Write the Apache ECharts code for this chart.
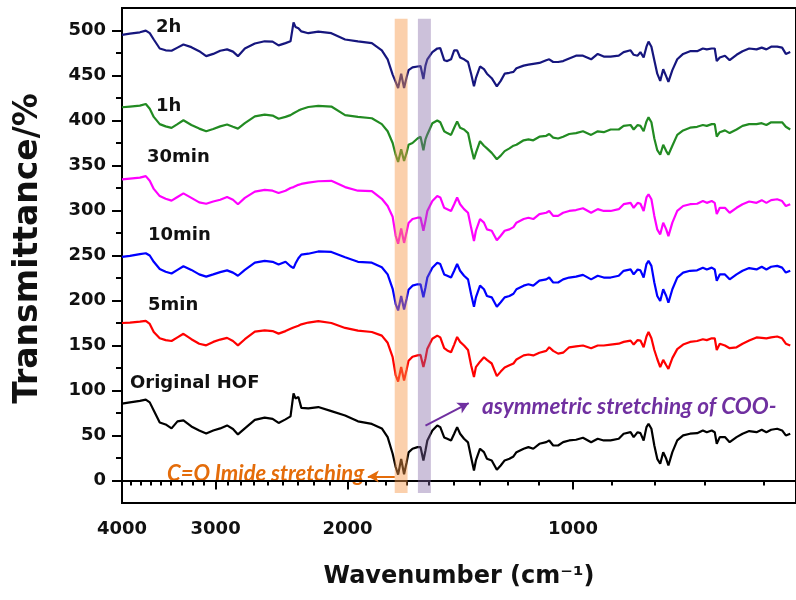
<!DOCTYPE html>
<html>
<head>
<meta charset="utf-8">
<title>FTIR spectra</title>
<script src="https://cdn.jsdelivr.net/npm/echarts@6.0.0/dist/echarts.min.js"></script>
<style>
  html, body { margin: 0; padding: 0; background: #fff; }
  #chart { width: 796px; height: 600px; }
</style>
</head>
<body>
<div id="chart"></div>
<script>
// wavenumber (cm-1) shared by every spectrum
const wavenumbers = [
  4000, 3904, 3786, 3718, 3673, 3628, 3562, 3498, 3435, 3373,
  3312, 3232, 3155, 3088, 3022, 2958, 2896, 2844, 2801, 2742,
  2659, 2580, 2518, 2472, 2420, 2383, 2361, 2347, 2326, 2305,
  2256, 2188, 2102, 2015, 1937, 1856, 1800, 1768, 1741, 1725,
  1712, 1696, 1681, 1668, 1658, 1638, 1613, 1598, 1584, 1574,
  1565, 1541, 1518, 1504, 1486, 1472, 1455, 1441, 1428, 1415,
  1398, 1381, 1368, 1356, 1348, 1331, 1315, 1303, 1284, 1264,
  1249, 1234, 1216, 1201, 1190, 1164, 1147, 1130, 1109, 1086,
  1076, 1063, 1047, 1031, 1012, 991, 970, 946, 927, 910,
  891, 869, 856, 838, 830, 820, 813, 805, 798, 793,
  786, 779, 772, 765, 758, 751, 746, 737, 726, 713,
  698, 683, 671, 663, 653, 647, 643, 637, 627, 618,
  605, 594, 582, 569, 560, 552, 544, 534, 526, 520,
  513
]

const originalHOF = [
  85.4, 86.8, 88.5, 89.8, 86.8, 77.9, 64.5, 62.3, 57.9, 65.7,
  66.8, 60.1, 55.6, 52.3, 55.6, 57.9, 61.2, 57.3, 51.2, 57.9,
  67.3, 69.8, 68.4, 64.0, 67.9, 71.2, 96.8, 91.2, 92.7, 80.7,
  80.1, 81.6, 77.1, 72.3, 65.7, 62.9, 57.9, 48.2, 29.7, 15.0,
  6.5, 24.0, 7.0, 20.0, 31.2, 35.3, 37.1, 37.1, 22.3, 33.4,
  44.5, 55.6, 61.2, 59.3, 47.9, 46.4, 44.5, 52.0, 59.3, 52.0,
  46.4, 42.3, 25.9, 11.1, 22.3, 35.3, 31.5, 24.1, 22.3, 11.9,
  16.7, 22.3, 24.1, 26.7, 31.5, 35.3, 37.1, 35.3, 40.8, 42.6,
  44.5, 38.9, 38.9, 42.6, 44.5, 45.3, 47.5, 42.6, 46.4, 44.5,
  44.5, 46.4, 52.0, 53.7, 48.2, 53.7, 52.6, 44.5, 59.3, 63.1,
  57.5, 38.9, 24.1, 18.6, 31.5, 24.1, 16.7, 31.5, 44.5, 50.1,
  52.0, 52.6, 55.6, 53.7, 55.6, 53.7, 40.8, 48.2, 48.2, 42.6,
  48.2, 52.0, 54.9, 53.7, 56.4, 53.7, 56.4, 57.5, 55.6, 50.1,
  52.0
]

const min5 = [
  175.0, 175.5, 176.5, 177.3, 174, 165, 158, 156, 155, 159,
  163, 157, 152, 150.2, 154, 156.6, 158.5, 155, 150.2, 157,
  165.5, 166.9, 166, 163.2, 166, 168.5, 170, 171, 172, 173.5,
  175.5, 177, 175, 169.5, 166.5, 165, 161, 153, 137, 117,
  110, 126, 111, 123, 133, 137.5, 139, 139.5, 126, 135.5,
  146.5, 157.5, 161, 159, 147, 144.5, 142.5, 151, 159.5, 154,
  150, 145, 128, 115, 126, 132, 137, 134, 130, 116,
  121, 125.5, 128, 130, 134.5, 139, 140, 139, 142, 144,
  148, 144, 141, 142, 148, 149, 150, 147, 150, 150,
  151, 152, 154, 155.5, 151, 156, 155.5, 148, 160, 165,
  158, 145, 135, 126, 134, 128, 124, 136, 146, 151,
  154, 155, 157, 156, 158, 158, 145, 152, 150, 147,
  148, 152, 155.5, 159, 158.5, 158, 159, 160, 158, 152,
  150
]

const min10 = [
  248.5, 249.5, 251.5, 252.5, 250, 243, 235, 232, 230, 234,
  238, 234, 229, 226.5, 229, 231.5, 233.5, 231, 227.5, 234,
  242, 244, 243, 240, 243, 238, 236, 241, 247, 251,
  252, 254.5, 254, 248, 243, 242, 237, 229, 213, 196,
  189, 205, 190, 202, 212, 216.5, 218, 218, 203.5, 214.5,
  225.5, 236.5, 242, 240.5, 229, 227.5, 225.5, 233, 240.5, 233,
  227.5, 223.5, 207, 193, 203.5, 216.5, 212.5, 205, 203.5, 193,
  198, 203.5, 205, 207.5, 212.5, 216.5, 218, 216.5, 222, 223.5,
  225.5, 220, 220, 223.5, 225.5, 226.5, 228.5, 223.5, 227.5, 225.5,
  225.5, 227.5, 233, 234.5, 229, 234.5, 233.5, 225.5, 240.5, 244,
  238.5, 220, 205, 199.5, 212.5, 205, 197.5, 212.5, 225.5, 231,
  233, 233.5, 236.5, 234.5, 236.5, 234.5, 222, 229, 229, 223.5,
  229, 233, 236, 234.5, 237.5, 234.5, 237.5, 238.5, 236.5, 231,
  233
]

const min30 = [
  334.6, 335.5, 336.5, 338.2, 333, 324, 316, 313, 311, 315,
  319, 314, 309, 307.5, 310, 312, 315, 312, 307, 314,
  321, 323, 322, 319.5, 322, 325, 326, 327, 328.5, 329.5,
  331, 332.5, 333, 326, 322, 321.5, 313, 305, 293, 272,
  263, 280, 264, 276, 286, 290.5, 292, 292, 277.5, 288.5,
  299.5, 310.5, 316, 314.5, 303, 301.5, 299.5, 307, 314.5, 307,
  301.5, 297.5, 281, 266, 277.5, 290.5, 286.5, 279, 277.5, 267,
  272, 277.5, 279, 281.5, 286.5, 290.5, 292, 290.5, 296, 297.5,
  299.5, 294, 294, 297.5, 299.5, 300.5, 302.5, 297.5, 301.5, 299.5,
  299.5, 301.5, 307, 308.5, 303, 308.5, 307.5, 299.5, 314.5, 318,
  312.5, 294, 279, 273.5, 286.5, 279, 271.5, 286.5, 299.5, 305,
  307, 307.5, 310.5, 308.5, 310.5, 308.5, 296, 303, 303, 297.5,
  303, 307, 310, 308.5, 311.5, 308.5, 311.5, 312.5, 310.5, 305,
  307
]

const h1 = [
  414.7, 415.5, 416.5, 418.4, 413, 404, 396, 393.5, 391.8, 396,
  400.3, 395, 391, 388, 390.5, 393.5, 395.5, 393, 391, 397,
  404.5, 406.5, 405.5, 402, 404, 406, 408, 409, 411, 412.5,
  415, 416.3, 415.5, 406, 404, 402.5, 396, 388, 375, 362,
  354, 368, 355, 364, 373, 375, 380, 382, 367, 379,
  384.5, 397, 400, 398, 388, 386, 384, 392, 399, 392,
  390, 386, 370, 357, 364, 377, 372, 369, 364, 357,
  361, 366, 369, 372, 373, 378, 379, 378, 382, 383,
  385, 381, 380, 382, 385, 386, 388, 384, 388, 387,
  390, 390, 394, 395, 390, 395, 394, 388, 399, 403.5,
  398, 380, 367, 362, 373, 366, 362, 372, 384, 389,
  392, 393, 395, 394, 396, 396, 382, 387, 389, 386,
  390, 394, 396, 396, 397, 395, 398, 398, 398, 393,
  390
]

const h2 = [
  495.2, 496.5, 498, 499.9, 497, 490, 480, 478, 477.5, 481,
  484.5, 481.5, 477, 471.5, 474, 477.5, 479, 476.5, 471.5, 480,
  485.5, 488, 487.7, 483.5, 486, 488, 509, 504, 502.6, 499,
  497, 498.8, 497, 490, 488, 486, 478, 468, 451, 443,
  436, 452, 436, 448, 456, 459, 460, 460.5, 446, 461,
  468, 476, 480, 480.4, 467, 466, 468, 478, 478, 470,
  468, 465, 452, 438, 447, 460, 457, 452, 447, 438,
  444, 452, 453, 454, 458, 461, 462, 463, 464, 467,
  468, 465, 465, 466, 469, 472, 472, 468, 474, 471,
  471, 472, 476, 478, 473, 472, 476, 470, 482, 487.7,
  482, 467, 452, 444, 457, 449, 443, 456, 468, 474,
  477, 477, 480, 479, 480, 480, 466, 470, 472, 467,
  473, 477, 480, 479, 481, 479, 482, 482, 481, 474,
  476
]

const xMajorTicks = [4000, 3000, 2000, 1000]
const xMinorTicks = [
  3889, 3778, 3667, 3556, 3444, 3333, 3222, 3111,
  2889, 2778, 2667, 2556, 2444, 2333, 2222, 2111,
  1889, 1778, 1667, 1556, 1444, 1333, 1222, 1111,
  889, 778, 667, 556
]
const yMajorTicks = [0, 50, 100, 150, 200, 250, 300, 350, 400, 450, 500]
const yMinorTicks = [25, 75, 125, 175, 225, 275, 325, 375, 425, 475]

const spectra = [
  { name: 'Original HOF', values: originalHOF, color: '#000000' },
  { name: '5min', values: min5, color: '#ff0000' },
  { name: '10min', values: min10, color: '#0000ff' },
  { name: '30min', values: min30, color: '#ff00ff' },
  { name: '1h', values: h1, color: '#228b22' },
  { name: '2h', values: h2, color: '#16167e' }
]

// curve captions, placed like the figure
const captions = [
  { text: '2h', x: 156, y: 27 },
  { text: '1h', x: 156, y: 106 },
  { text: '30min', x: 147, y: 157 },
  { text: '10min', x: 148, y: 235 },
  { text: '5min', x: 148, y: 305 },
  { text: 'Original HOF', x: 130, y: 383 }
]

const boldFont = 'DejaVu Sans'
const noteFont = 'Lato'

const chart = echarts.init(document.getElementById('chart'), null, { renderer: 'canvas' })

const lineSeries = spectra.map(({ name, values, color }) => ({
  name,
  type: 'line',
  showSymbol: false,
  symbol: 'none',
  data: wavenumbers.map((w, i) => [w, values[i]]),
  lineStyle: { color, width: 2.2 },
  itemStyle: { color },
  z: 2
}))

const logAxisBase = {
  type: 'log',
  logBase: 10,
  inverse: true,
  min: 504,
  max: 4000,
  splitLine: { show: false },
  minorTick: { show: false },
  minorSplitLine: { show: false }
}

const option = {
  animation: false,
  backgroundColor: '#ffffff',
  grid: {
    left: 122,
    right: -6,
    top: 8,
    bottom: 97,
    show: true,
    borderColor: '#000',
    borderWidth: 2,
    backgroundColor: 'transparent'
  },
  xAxis: [
    {
      ...logAxisBase,
      position: 'bottom',
      axisLine: { lineStyle: { color: '#000', width: 2 } },
      axisTick: { customValues: xMajorTicks, length: 9, lineStyle: { color: '#000', width: 2 } },
      axisLabel: {
        customValues: xMajorTicks,
        formatter: v => String(Math.round(v)),
        margin: 17,
        color: '#111',
        fontSize: 18,
        fontWeight: 'bold',
        fontFamily: boldFont
      },
      name: 'Wavenumber (cm⁻¹)',
      nameLocation: 'middle',
      nameGap: 62,
      nameTextStyle: { color: '#111', fontSize: 24, fontWeight: 'bold', fontFamily: boldFont }
    },
    {
      ...logAxisBase,
      position: 'bottom',
      axisLine: { show: false },
      axisTick: { customValues: xMinorTicks, length: 5, lineStyle: { color: '#000', width: 2 } },
      axisLabel: { show: false }
    }
  ],
  yAxis: [
    {
      type: 'value',
      min: -25,
      max: 525,
      position: 'left',
      splitLine: { show: false },
      axisLine: { show: true, lineStyle: { color: '#000', width: 2 } },
      axisTick: { show: true, customValues: yMajorTicks, length: 10, lineStyle: { color: '#000', width: 2 } },
      axisLabel: {
        customValues: yMajorTicks,
        margin: 16,
        color: '#111',
        fontSize: 18,
        fontWeight: 'bold',
        fontFamily: boldFont
      },
      name: 'Transmittance/%',
      nameLocation: 'middle',
      nameGap: 77,
      nameTextStyle: { color: '#111', fontSize: 33, fontWeight: 'bold', fontFamily: boldFont, padding: [0, 0, 0, 14] }
    },
    {
      type: 'value',
      min: -25,
      max: 525,
      position: 'left',
      splitLine: { show: false },
      axisLine: { show: false },
      axisTick: { show: true, customValues: yMinorTicks, length: 6, lineStyle: { color: '#000', width: 2 } },
      axisLabel: { show: false }
    }
  ],
  series: [
    ...lineSeries,
    {
      // highlighted bands and the two arrows
      name: 'notes',
      type: 'line',
      data: [],
      z: 10,
      silent: true,
      markArea: {
        silent: true,
        z: 10,
        data: [
          [{ xAxis: 1730, yAxis: -14, itemStyle: { color: 'rgba(247,150,70,0.45)' } }, { xAxis: 1663, yAxis: 513 }],
          [{ xAxis: 1611, yAxis: -14, itemStyle: { color: 'rgba(128,100,162,0.4)' } }, { xAxis: 1548, yAxis: 513 }]
        ]
      },
      markLine: {
        silent: true,
        z: 11,
        symbol: ['none', 'arrow'],
        symbolSize: [9, 11],
        label: { show: false },
        data: [
          [
            { coord: [1730, 4.5], lineStyle: { color: '#e46c0a', width: 2, type: 'solid' }, itemStyle: { color: '#e46c0a' } },
            { coord: [1879, 4.5] }
          ],
          [
            { coord: [1574, 61], lineStyle: { color: '#7030a0', width: 2, type: 'solid' }, itemStyle: { color: '#7030a0' } },
            { coord: [1378, 86] }
          ]
        ]
      }
    }
  ],
  graphic: [
    ...captions.map(c => ({
      type: 'text',
      x: c.x,
      y: c.y,
      silent: true,
      style: {
        text: c.text,
        fill: '#111',
        font: `bold 18px "${boldFont}"`,
        verticalAlign: 'middle'
      }
    })),
    {
      type: 'text',
      x: 167,
      y: 474,
      silent: true,
      style: {
        text: 'C=O Imide stretching',
        fill: '#e46c0a',
        font: `italic bold 22px "${noteFont}"`,
        verticalAlign: 'middle'
      }
    },
    {
      type: 'text',
      x: 482,
      y: 407,
      silent: true,
      style: {
        text: 'asymmetric stretching of COO-',
        fill: '#7030a0',
        font: `italic bold 22.5px "${noteFont}"`,
        verticalAlign: 'middle'
      }
    }
  ]
}

chart.setOption(option)
</script>
</body>
</html>
